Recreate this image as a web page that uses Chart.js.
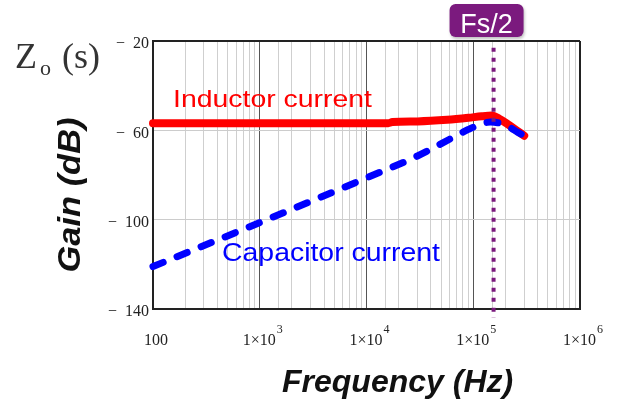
<!DOCTYPE html>
<html>
<head>
<meta charset="utf-8">
<script src="https://cdn.jsdelivr.net/npm/chart.js@4/dist/chart.umd.min.js"></script>
<style>
  body { margin: 0; background: #fff; }
  #chart { display: block; }
</style>
</head>
<body>
<canvas id="chart" width="624" height="400"></canvas>
<script>
// frequency (Hz) / gain (dB)
const inductorFreq = [100, 1000, 10000, 16000, 17500, 30000, 57000, 90000, 120000, 150000, 175000, 210000, 260000, 300000];
const inductorGain = [-56.8, -56.8, -56.8, -56.8, -56.3, -56.0, -55.3, -54.4, -53.7, -53.4, -54.8, -57.2, -60.3, -62.4];

const capacitorFreq = [100, 1000, 10000, 30000, 60000, 90000, 120000, 145000, 180000, 220000, 260000, 310000];
const capacitorGain = [-121, -101.3, -81.3, -71.5, -64, -59.6, -57.1, -56.3, -56.9, -58.7, -60.8, -62.8];

const fsHalf = 155000;
const fsLineGain = [-23, -144];

const yTicks = [-140, -100, -60, -20];
const xMin = 100, xMax = 1e6;

function isDecade(v){
  let l = Math.log10(v);
  return Math.abs(l - Math.round(l)) < 1e-9;
}

function toPoints(xs, ys){
  return xs.map((x, i) => ({x: x, y: ys[i]}));
}

const purple = '#7b1a7e';
const serif = '"Liberation Serif", "Times New Roman", serif';
const sans = '"Liberation Sans", Arial, sans-serif';

// extra text: tick labels of the log axis, titles, series labels, Fs/2 tag
const annotations = {
  id: 'annotations',
  afterDatasetsDraw(chart){
    const ctx = chart.ctx;
    const xs = chart.scales.x;
    ctx.save();
    ctx.textBaseline = 'alphabetic';

    // x tick labels: 100, 1x10^3 ...
    ctx.fillStyle = '#222';
    xs.ticks.forEach(t => {
      if(!isDecade(t.value)) return;
      let px = xs.getPixelForValue(t.value) + 3;
      ctx.textAlign = 'left';
      if(t.value == 100){
        ctx.font = '16px ' + serif;
        ctx.fillText('100', px - ctx.measureText('100').width / 2, 345);
        return;
      }
      let e = Math.round(Math.log10(t.value)).toString();
      ctx.font = '16px ' + serif;
      let w1 = ctx.measureText('1×10').width;
      ctx.font = '12px ' + serif;
      let w2 = ctx.measureText(e).width;
      let left = px - (w1 + w2 + 1) / 2;
      ctx.font = '16px ' + serif;
      ctx.fillText('1×10', left, 345);
      ctx.font = '12px ' + serif;
      ctx.fillText(e, left + w1 + 1, 333);
    });

    // series labels, stretched a little to match the original
    function stretched(text, font, color, left, base, width){
      ctx.font = font;
      ctx.fillStyle = color;
      ctx.textAlign = 'left';
      let w = ctx.measureText(text).width;
      ctx.save();
      ctx.translate(left, base);
      ctx.scale(width / w, 1);
      ctx.fillText(text, 0, 0);
      ctx.restore();
    }
    stretched('Inductor current', '24px ' + sans, '#ff0000', 173, 107, 199);
    stretched('Capacitor current', '26px ' + sans, '#0000ff', 222, 261, 218);

    // Fs/2 tag
    let fx = xs.getPixelForValue(fsHalf);
    let bx = fx - 44, by = 4, bw = 74, bh = 33;
    ctx.save();
    ctx.shadowColor = 'rgba(0,0,0,0.25)';
    ctx.shadowBlur = 3;
    ctx.shadowOffsetX = 1;
    ctx.shadowOffsetY = 2;
    ctx.fillStyle = purple;
    ctx.beginPath();
    ctx.roundRect(bx, by, bw, bh, 6);
    ctx.fill();
    ctx.restore();
    ctx.fillStyle = '#fff';
    ctx.font = '27px ' + sans;
    ctx.textAlign = 'center';
    ctx.fillText('Fs/2', bx + bw / 2, 33);

    // Zo(s)
    ctx.fillStyle = '#333';
    ctx.textAlign = 'left';
    ctx.font = '36px ' + serif;
    ctx.fillText('Z', 15, 68);
    ctx.font = '22px ' + serif;
    ctx.fillText('o', 40, 75);
    ctx.font = '36px ' + serif;
    ctx.fillText('(s)', 62, 68);

    // axis titles
    ctx.fillStyle = '#111';
    ctx.font = 'italic bold 32px ' + sans;
    ctx.fillText('Frequency (Hz)', 282, 392);
    ctx.save();
    ctx.translate(80, 195);
    ctx.rotate(-Math.PI / 2);
    ctx.textAlign = 'center';
    ctx.scale(155 / ctx.measureText('Gain (dB)').width, 1);
    ctx.fillText('Gain (dB)', 0, 0);
    ctx.restore();

    ctx.restore();
  }
};

const chart = new Chart(document.getElementById('chart').getContext('2d'), {
  type: 'line',
  data: {
    datasets: [{
      label: 'Fs/2',
      data: toPoints([fsHalf, fsHalf], fsLineGain),
      borderColor: purple,
      borderWidth: 4,
      borderDash: [4, 6],
      borderCapStyle: 'butt',
      pointRadius: 0,
      clip: false
    }, {
      label: 'Capacitor current',
      data: toPoints(capacitorFreq, capacitorGain),
      borderColor: '#0000ff',
      borderWidth: 7,
      borderDash: [11, 15],
      borderDashOffset: 0,
      borderCapStyle: 'round',
      cubicInterpolationMode: 'monotone',
      pointRadius: 0,
      clip: false
    }, {
      label: 'Inductor current',
      data: toPoints(inductorFreq, inductorGain),
      borderColor: '#ff0000',
      borderWidth: 8,
      borderCapStyle: 'round',
      borderJoinStyle: 'round',
      cubicInterpolationMode: 'monotone',
      pointRadius: 0,
      clip: false
    }]
  },
  options: {
    responsive: false,
    animation: false,
    layout: {padding: {left: 100, right: 44, top: 41, bottom: 0}},
    plugins: {legend: {display: false}, tooltip: {enabled: false}},
    scales: {
      x: {
        type: 'logarithmic',
        min: xMin,
        max: xMax,
        afterFit: s => { s.height = 91; },
        border: {color: '#222', width: 2},
        grid: {
          drawTicks: false,
          color: c => (c.tick && isDecade(c.tick.value)) ? (c.tick.value >= xMax ? '#222' : '#555') : '#cfcfcf',
          lineWidth: c => (c.tick && c.tick.value >= xMax) ? 2 : 1
        },
        ticks: {display: false, autoSkip: false}
      },
      y: {
        min: -140,
        max: -20,
        afterFit: s => { s.width = 53; },
        afterBuildTicks: s => { s.ticks = yTicks.map(v => ({value: v})); },
        border: {color: '#222', width: 2},
        grid: {
          drawTicks: false,
          color: c => (c.tick && c.tick.value == -20) ? '#222' : '#cccccc',
          lineWidth: c => (c.tick && c.tick.value == -20) ? 2 : 1
        },
        ticks: {
          padding: 4,
          labelOffset: 3,
          color: '#222',
          font: {family: serif, size: 16},
          callback: v => '\u2212\u2002' + Math.abs(v)
        }
      }
    }
  },
  plugins: [annotations]
});
</script>
</body>
</html>
